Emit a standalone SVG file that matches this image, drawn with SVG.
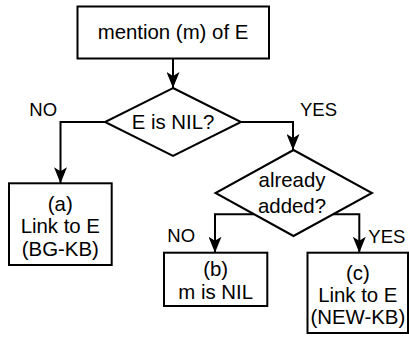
<svg xmlns="http://www.w3.org/2000/svg" width="409" height="337" viewBox="0 0 409 337">
  <defs>
    <marker id="arrow" markerUnits="userSpaceOnUse" viewBox="0 0 16 13" markerWidth="16" markerHeight="13" refX="16" refY="6.5" orient="auto">
      <path d="M0,0 L16,6.5 L0,13 L4,6.5 z" fill="#000"/>
    </marker>
  </defs>
  <style>
    .shape { fill: #fff; stroke: #000; stroke-width: 2; }
    .txt { font-family: "Liberation Sans", Arial, sans-serif; font-size: 20.4px; fill: #000; text-anchor: middle; }
    .lbl { font-family: "Liberation Sans", Arial, sans-serif; font-size: 18.5px; fill: #000; }
    .edge { fill: none; stroke: #000; stroke-width: 2; marker-end: url(#arrow); }
  </style>
  <rect width="409" height="337" fill="#fff"/>

  <g id="connectors">
    <path class="edge" d="M173,58.5 L173,88"/>
    <path class="edge" d="M105,122 L60.5,122 L60.5,183.3"/>
    <path class="edge" d="M241,122 L293,122 L293,150"/>
    <path class="edge" d="M254,214.3 L215,214.3 L215,252.7"/>
    <path class="edge" d="M333.4,214.3 L359.3,214.3 L359.3,252.7"/>
    <text class="lbl" x="29.3" y="115.7">NO</text>
    <text class="lbl" x="300" y="116">YES</text>
    <text class="lbl" x="167.3" y="241.7">NO</text>
    <text class="lbl" x="368.3" y="243.3">YES</text>
  </g>

  <g id="mention">
    <rect class="shape" x="77.5" y="6.5" width="191.5" height="52"/>
    <text class="txt" x="173" y="39.3">mention (m) of E</text>
  </g>

  <g id="is-nil">
    <polygon class="shape" points="173,88 241,122 173,156 105,122"/>
    <text class="txt" x="173" y="128.5">E is NIL?</text>
  </g>

  <g id="already-added">
    <polygon class="shape" points="293.5,150 372,193 293.5,236 215.5,193"/>
    <text class="txt" x="292" y="187">already</text>
    <text class="txt" x="292" y="213">added?</text>
  </g>

  <g id="link-bg">
    <rect class="shape" x="9" y="183.3" width="102.7" height="81.7"/>
    <text class="txt" x="60.3" y="210.5">(a)</text>
    <text class="txt" x="60.3" y="233.3">Link to E</text>
    <text class="txt" x="60.3" y="255.5">(BG-KB)</text>
  </g>

  <g id="m-nil">
    <rect class="shape" x="164" y="252.7" width="103.3" height="53.3"/>
    <text class="txt" x="215.7" y="275.5">(b)</text>
    <text class="txt" x="215.7" y="298.5">m is NIL</text>
  </g>

  <g id="link-new">
    <rect class="shape" x="307.5" y="252.7" width="100.5" height="80.3"/>
    <text class="txt" x="357.8" y="279.5">(c)</text>
    <text class="txt" x="357.8" y="301.7">Link to E</text>
    <text class="txt" x="357.8" y="323.5">(NEW-KB)</text>
  </g>
</svg>
